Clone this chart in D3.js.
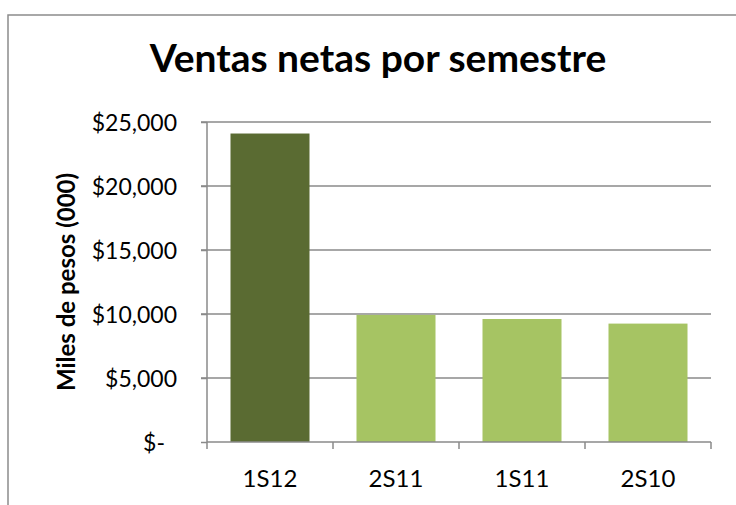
<!DOCTYPE html>
<html>
<head>
<meta charset="utf-8">
<script src="https://cdn.jsdelivr.net/npm/d3@7"></script>
<style>
  body { margin: 0; background: #fff; }
  text { font-family: Lato, sans-serif; fill: #000; }
</style>
</head>
<body>
<svg width="736" height="505"></svg>
<script>
  const categories = ["1S12", "2S11", "1S11", "2S10"];
  const ventas = [24100, 9930, 9610, 9250];
  const yTicks = [0, 5000, 10000, 15000, 20000, 25000];
  const barColors = ["#5a6b32", "#a6c463", "#a6c463", "#a6c463"];

  const svg = d3.select("svg");

  // marco del gráfico (recortado a la derecha y abajo)
  svg.append("rect")
    .attr("x", 8).attr("y", 15)
    .attr("width", 740).attr("height", 500)
    .attr("fill", "#fff")
    .attr("stroke", "#8c8c8c")
    .attr("stroke-width", 1.5);

  const plotL = 207, plotR = 711, plotT = 122, plotB = 442;

  const x = d3.scaleBand()
    .domain(categories)
    .range([plotL, plotR])
    .paddingInner(0.373)
    .paddingOuter(0.1865);

  const y = d3.scaleLinear()
    .domain([0, 25000])
    .range([plotB, plotT]);

  // líneas de cuadrícula
  svg.append("g")
    .selectAll("line")
    .data(yTicks.filter(d => d > 0))
    .enter()
    .append("line")
    .attr("x1", plotL - 6).attr("x2", plotR)
    .attr("y1", d => y(d)).attr("y2", d => y(d))
    .attr("stroke", "#8a8a8a")
    .attr("stroke-width", 1.5);

  // barras
  svg.append("g")
    .selectAll("rect")
    .data(ventas)
    .enter()
    .append("rect")
    .attr("x", (d, i) => x(categories[i]))
    .attr("width", x.bandwidth())
    .attr("y", d => y(d))
    .attr("height", d => y(0) - y(d))
    .attr("fill", (d, i) => barColors[i]);

  // eje Y
  const yAxis = svg.append("g")
    .attr("transform", `translate(${plotL},0)`)
    .call(d3.axisLeft(y).tickValues(yTicks).tickSize(6).tickPadding(0)
      .tickFormat(d => d === 0 ? "$-" : "$" + d3.format(",")(d)));
  yAxis.select(".domain").attr("stroke", "#8a8a8a").attr("stroke-width", 1.5)
    .attr("d", `M0,${plotT}V${plotB + 7}`);
  yAxis.selectAll(".tick line").attr("stroke", "#8a8a8a").attr("stroke-width", 1.5);
  yAxis.selectAll(".tick text")
    .attr("x", d => d === 0 ? -42 : -30)
    .attr("dy", "0.35em")
    .style("font-size", "23px")
    .style("font-family", "Lato, sans-serif");

  // eje X
  const xAxis = svg.append("g")
    .attr("transform", `translate(0,${plotB})`)
    .call(d3.axisBottom(x).tickSize(0).tickPadding(45));
  xAxis.select(".domain").attr("stroke", "#8a8a8a").attr("stroke-width", 1.5)
    .attr("d", `M${plotL},0H${plotR}`);
  xAxis.selectAll(".tick text")
    .attr("dy", "0")
    .style("font-size", "24px")
    .style("font-family", "Lato, sans-serif");

  // marcas entre categorías
  const step = x.step();
  svg.append("g")
    .selectAll("line")
    .data(categories)
    .enter()
    .append("line")
    .attr("x1", (d, i) => plotL + step * (i + 1))
    .attr("x2", (d, i) => plotL + step * (i + 1))
    .attr("y1", plotB).attr("y2", plotB + 7)
    .attr("stroke", "#8a8a8a")
    .attr("stroke-width", 1.5);

  // título
  svg.append("text")
    .attr("x", 378).attr("y", 72)
    .attr("text-anchor", "middle")
    .style("font-size", "39px")
    .style("font-weight", "bold")
    .text("Ventas netas por semestre");

  // título eje Y
  svg.append("text")
    .attr("transform", "translate(75,282) rotate(-90)")
    .attr("text-anchor", "middle")
    .style("font-size", "24px")
    .style("font-weight", "bold")
    .text("Miles de pesos (000)");
</script>
</body>
</html>
